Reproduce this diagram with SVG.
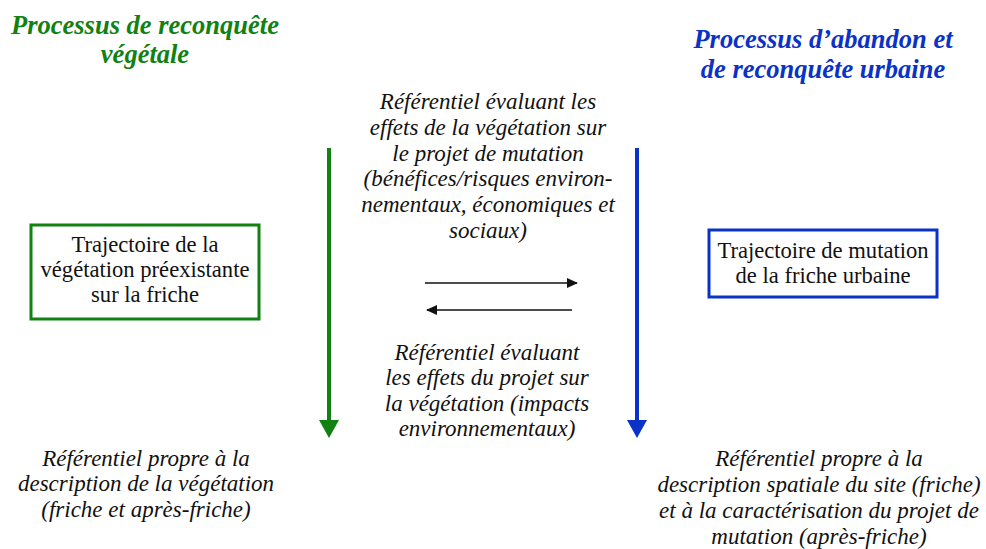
<svg xmlns="http://www.w3.org/2000/svg" width="986" height="549" viewBox="0 0 986 549">
<style>
.ttl{font-family:'Liberation Serif',serif;font-weight:bold;font-style:italic;font-size:26.5px;text-anchor:middle}
.g{fill:#118111}
.b{fill:#0a32c8}
.it{font-family:'Liberation Serif',serif;font-style:italic;font-size:23px;text-anchor:middle;fill:#111}
.bx{font-family:'Liberation Serif',serif;font-size:22.6px;text-anchor:middle;fill:#111}
</style>
<defs>
<marker id="ag" markerWidth="5" markerHeight="5" refX="0" refY="2.5" orient="auto" markerUnits="strokeWidth"><path d="M0,0 L4.5,2.5 L0,5 Z" fill="#118111"/></marker>
<marker id="ab" markerWidth="5" markerHeight="5" refX="0" refY="2.5" orient="auto" markerUnits="strokeWidth"><path d="M0,0 L4.5,2.5 L0,5 Z" fill="#0a32c8"/></marker>
<marker id="ak" markerWidth="11" markerHeight="10" refX="10" refY="5" orient="auto" markerUnits="userSpaceOnUse"><path d="M0,0 L11,5 L0,10 Z" fill="#111"/></marker>
</defs>
<g id="title-left" class="ttl g"><text x="145" y="34">Processus de reconquête</text><text x="145" y="63">végétale</text></g>
<g id="title-right" class="ttl b"><text x="823" y="48">Processus d’abandon et</text><text x="823" y="78">de reconquête urbaine</text></g>
<g id="connectors">
<line x1="329" y1="148" x2="329" y2="420" stroke="#118111" stroke-width="4" marker-end="url(#ag)"/>
<line x1="637" y1="148" x2="637" y2="420" stroke="#0a32c8" stroke-width="4" marker-end="url(#ab)"/>
<line x1="425" y1="283" x2="577" y2="283" stroke="#111" stroke-width="1.5" marker-end="url(#ak)"/>
<line x1="572" y1="310" x2="427" y2="310" stroke="#111" stroke-width="1.5" marker-end="url(#ak)"/>
</g>
<g id="ref-top" class="it"><text x="488" y="109">Référentiel évaluant les</text><text x="488" y="135">effets de la végétation sur</text><text x="488" y="161">le projet de mutation</text><text x="488" y="186">(bénéfices/risques environ-</text><text x="488" y="212">nementaux, économiques et</text><text x="488" y="238">sociaux)</text></g>
<g id="ref-bottom" class="it"><text x="487" y="360">Référentiel évaluant</text><text x="487" y="385">les effets du projet sur</text><text x="487" y="411">la végétation (impacts</text><text x="487" y="436">environnementaux)</text></g>
<g id="box-left"><rect x="31" y="225" width="228" height="94" fill="#fff" stroke="#118111" stroke-width="3"/><g class="bx"><text x="145" y="252">Trajectoire de la</text><text x="145" y="277">végétation préexistante</text><text x="145" y="302">sur la friche</text></g></g>
<g id="box-right"><rect x="709" y="230" width="228" height="67" fill="#fff" stroke="#0a32c8" stroke-width="3"/><g class="bx"><text x="823" y="258">Trajectoire de mutation</text><text x="823" y="283">de la friche urbaine</text></g></g>
<g id="ref-left" class="it"><text x="146" y="466">Référentiel propre à la</text><text x="146" y="491">description de la végétation</text><text x="146" y="517">(friche et après-friche)</text></g>
<g id="ref-right" class="it"><text x="819" y="466">Référentiel propre à la</text><text x="819" y="492">description spatiale du site (friche)</text><text x="819" y="518">et à la caractérisation du projet de</text><text x="819" y="544">mutation (après-friche)</text></g>
</svg>
